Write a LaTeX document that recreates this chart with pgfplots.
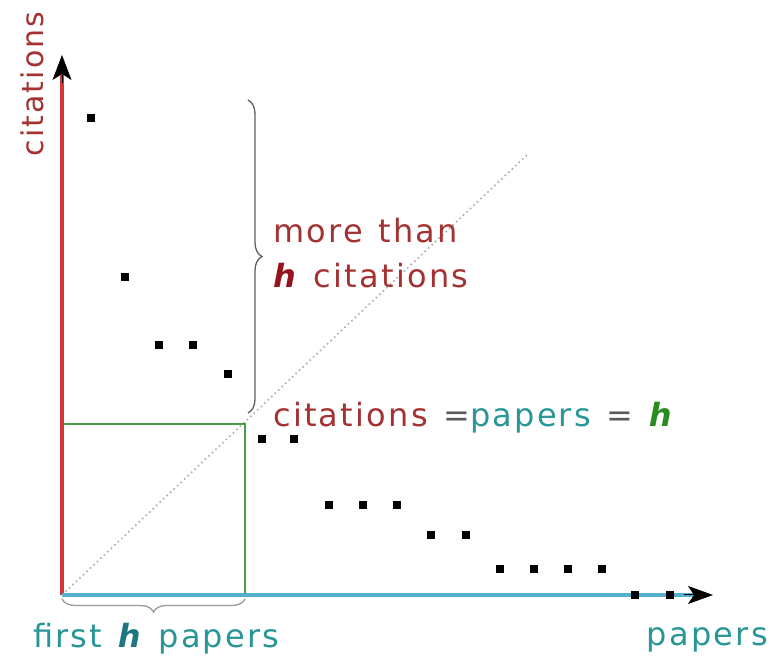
\documentclass[border=0pt]{standalone}
\usepackage{fontspec}
\setmainfont{DejaVu Sans}[LetterSpace=7,WordSpace=1.25]
\usepackage{pgfplots}
\pgfplotsset{compat=1.18}
\usetikzlibrary{decorations.pathreplacing,arrows.meta}
\definecolor{axred}{RGB}{210,55,55}
\definecolor{txtred}{RGB}{165,50,50}
\definecolor{hred}{RGB}{150,20,30}
\definecolor{axblue}{RGB}{85,175,205}
\definecolor{txtteal}{RGB}{40,150,150}
\definecolor{hteal}{RGB}{30,120,130}
\definecolor{boxgreen}{RGB}{70,160,70}
\definecolor{hgreen}{RGB}{40,140,30}
\definecolor{bracegray}{RGB}{95,95,95}
\definecolor{eqgray}{RGB}{90,90,90}
\newcommand{\hh}{\textbf{\textit{h}}}
\begin{document}
\begin{tikzpicture}
\fontsize{32bp}{38bp}\selectfont
\begin{axis}[x=1bp,y=1bp,xmin=-62,xmax=712,ymin=-63,ymax=595,
  axis lines=none,ticks=none,clip=false]
\addplot[gray!65,line width=1.6bp,dash pattern=on 1.6bp off 3.2bp] coordinates {(0,0) (465,440)};
\addplot[boxgreen,line width=2.5bp] coordinates {(0,171) (183,171) (183,0)};
\addplot[axred,line width=4bp] coordinates {(0,0) (0,522)};
\addplot[black,line width=1bp,-{Stealth[length=25bp,width=19bp,inset=6bp]}] coordinates {(0,512) (0,540)};
\addplot[axblue,line width=4bp] coordinates {(0,0) (635,0)};
\addplot[black,line width=1bp,-{Stealth[length=25bp,width=18bp,inset=6bp]}] coordinates {(622,0) (651,0)};
\addplot[only marks,mark=square*,mark size=3.6bp,black] coordinates {
(29,477) (63,318) (97,250) (131,250) (166,221) (200,156) (232,156)
(267,90) (301,90) (335,90) (369,60) (404,60) (438,26) (472,26)
(506,26) (540,26) (573,0) (608,0)};
\draw[bracegray,line width=1.3bp,decorate,decoration={brace,amplitude=14bp}]
  (axis cs:186,495) -- (axis cs:186,182);
\draw[gray!80,line width=1.3bp,decorate,decoration={brace,amplitude=13bp}]
  (axis cs:183,-4) -- (axis cs:0,-4);
\node[rotate=90,anchor=base,text=txtred,inner sep=0pt,font=\fontsize{30bp}{36bp}\selectfont] at (axis cs:-19,511) {citations};
\node[anchor=base west,text=txtred,inner sep=0pt] at (axis cs:211,352) {more than};
\node[anchor=base west,text=txtred,inner sep=0pt] at (axis cs:211,307) {\textcolor{hred}{\hh} citations};
\node[anchor=base west,inner sep=0pt] at (axis cs:211,168)
  {\textcolor{txtred}{citations} \textcolor{eqgray}{=}\textcolor{txtteal}{papers} \textcolor{eqgray}{=} \textcolor{hgreen}{\hh}};
\node[anchor=base west,text=txtteal,inner sep=0pt] at (axis cs:-29,-53) {first \textcolor{hteal}{\hh} papers};
\node[anchor=base east,text=txtteal,inner sep=0pt] at (axis cs:706,-51) {papers};
\end{axis}
\pgfresetboundingbox
\path[use as bounding box] (current axis.south west) rectangle (current axis.north east);
\end{tikzpicture}
\end{document}
